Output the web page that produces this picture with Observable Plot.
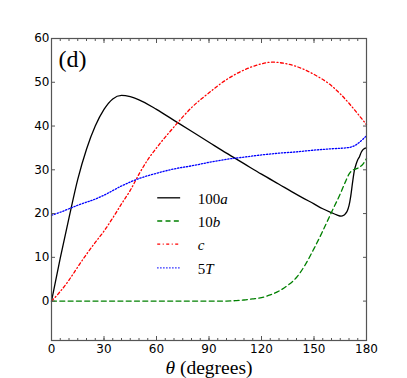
<!DOCTYPE html>
<html><head><meta charset="utf-8">
<script src="https://cdn.jsdelivr.net/npm/d3@7"></script>
<script src="https://cdn.jsdelivr.net/npm/@observablehq/plot@0.6"></script>
<style>body{margin:0;background:#fff}</style>
</head><body><div id="chart"></div>
<script>
// ---- data ----
const aTheta = [0,5,10,15,20,25,30,35,40,45,50,60,70,80,90,100,110,120,130,140,150,155,160,163,165.5,167,168,169,170,171,172,173,174,175,176,177,178,179,180];
const aVal   = [0,9.8,19,27.8,34.7,40,43.8,46.2,47,46.7,46,43.8,41.3,38.8,36.3,33.8,31.4,29,26.7,24.4,22.2,21.1,20.2,19.7,19.4,19.6,20,20.6,21.8,24,27,29.7,31.2,32.3,33,34,34.6,34.9,35];
const bTheta = [0,20,40,60,80,100,105,110,115,120,125,130,135,140,145,150,155,160,165,168,170,172,174,176,178,180];
const bVal   = [0,0,0,0,0,0,0.1,0.25,0.5,0.8,1.4,2.3,3.6,5.4,8.3,12,16,20.3,24.5,27.3,29,29.9,30.2,30.6,31.3,32.6];
const cTheta = [0,5,10,15,20,25,30,35,40,45,50,55,60,70,80,90,100,110,120,126,130,140,150,160,170,175,180];
const cVal   = [0,2.2,4.8,7.8,10.7,13.4,16,19,22.2,25.3,29,32.3,35,39.8,44.2,47.6,50.6,52.8,54.2,54.6,54.5,53.6,51.8,49.2,45.2,42.8,40.3];
const tTheta = [0,5,10,15,20,25,30,40,50,60,70,80,90,100,110,120,130,140,150,160,170,172,174,176,178,180];
const tVal   = [19.6,20.3,21.1,21.9,22.6,23.3,24.2,26.3,28,29.2,30.2,30.9,31.7,32.4,32.9,33.4,33.8,34.1,34.5,34.8,35.1,35.3,35.7,36.3,37,37.8];

const seriesNames = ["100a","10b","c","5T"];
const seriesColors = ["black","#008000","#ff0000","#0000ff"];
const seriesDash = [null,"5,3.3","3,2.5,1,2.5","1.3,1.7"];
const seriesTheta = [aTheta,bTheta,cTheta,tTheta];
const seriesVal = [aVal,bVal,cVal,tVal];

const xMajor = [0,30,60,90,120,150,180];
const xMinor = d3.range(0,181,5);
const yMajor = [0,10,20,30,40,50,60];
const xDomain = [0,180];
const yDomain = [-9,60];
const panelLabel = "(d)";
const xLabel = "θ (degrees)";

// legend placement (data units)
const legendX1 = 60.7, legendX2 = 73.8, legendTextX = 83.5;
const legendY = [23.6, 18.3, 13.0, 7.6];

// ---- build ----
const lineMarks = seriesNames.map((name,i) => {
  const rows = seriesTheta[i].map((t,j)=>({x:t, y:seriesVal[i][j]}));
  return Plot.line(rows, {x:"x", y:"y", stroke: seriesColors[i], strokeWidth: 1.3,
    strokeDasharray: seriesDash[i] || undefined, curve: "monotone-x"});
});
const legendRows = seriesNames.map((n,i)=>({name:n, y:legendY[i], i}));
const legendMarks = legendRows.map(r => Plot.ruleY([r], {y:"y", x1: legendX1, x2: legendX2,
  stroke: seriesColors[r.i], strokeWidth: 1.3, strokeDasharray: seriesDash[r.i] || undefined}));

const frameColor = "#555";
const chart = Plot.plot({
  width: 407, height: 378,
  marginLeft: 51, marginRight: 41, marginTop: 38, marginBottom: 38,
  style: {background: "white", fontFamily: "DejaVu Sans", fontSize: "12px", color: "black", overflow: "visible"},
  x: {domain: xDomain, axis: null},
  y: {domain: yDomain, axis: null},
  marks: [
    ...lineMarks,
    ...legendMarks,
    Plot.text(legendRows, {x: () => legendTextX, y: "y", text: "name", textAnchor: "start", lineAnchor: "middle",
      fontFamily: "Liberation Serif", fontSize: 15, fill: "black", dy: 1}),
    Plot.axisX({ticks: xMinor, anchor: "bottom", tickSize: -2, tickFormat: () => "", label: null, stroke: frameColor}),
    Plot.axisX({ticks: xMinor, anchor: "top", tickSize: -2, tickFormat: () => "", label: null, stroke: frameColor}),
    Plot.axisX({ticks: xMajor, anchor: "bottom", tickSize: -4, tickFormat: () => "", label: null, stroke: frameColor}),
    Plot.axisX({ticks: xMajor, anchor: "top", tickSize: -4, tickFormat: () => "", label: null, stroke: frameColor}),
    Plot.axisY({ticks: yMajor, anchor: "left", tickSize: -4, tickFormat: () => "", label: null, stroke: frameColor}),
    Plot.axisY({ticks: yMajor, anchor: "right", tickSize: -4, tickFormat: () => "", label: null, stroke: frameColor}),
    Plot.axisX({ticks: xMajor, anchor: "bottom", tickSize: 0, tickPadding: 4, label: null, fontSize: 12, fill: "black"}),
    Plot.axisY({ticks: yMajor, anchor: "left", tickSize: 0, tickPadding: 2, label: null, fontSize: 12, fill: "black"}),
    Plot.frame({stroke: frameColor, strokeWidth: 1.2}),
    Plot.text([panelLabel], {frameAnchor: "top-left", dx: 7, dy: 28, lineAnchor: "bottom", textAnchor: "start",
      fontFamily: "Liberation Serif", fontSize: 24, fill: "black"}),
    Plot.text([xLabel], {frameAnchor: "bottom", dy: 33, lineAnchor: "bottom", textAnchor: "middle",
      fontFamily: "Liberation Serif", fontSize: 19.5, fill: "black"})
  ]
});
document.getElementById("chart").appendChild(chart);

// italic math letters
d3.select(chart).selectAll("text").each(function(){
  const t = this.textContent;
  if (seriesNames.includes(t)) {
    const m = t.match(/^(\d*)(.*)$/);
    const sel = d3.select(this); sel.text(null);
    if (m[1]) sel.append("tspan").text(m[1]);
    sel.append("tspan").attr("font-style","italic").text(m[2]);
  } else if (t === xLabel) {
    const sel = d3.select(this); sel.text(null);
    sel.append("tspan").attr("font-style","italic").text(t.slice(0,1));
    sel.append("tspan").text(t.slice(1));
  }
});
</script></body></html>
